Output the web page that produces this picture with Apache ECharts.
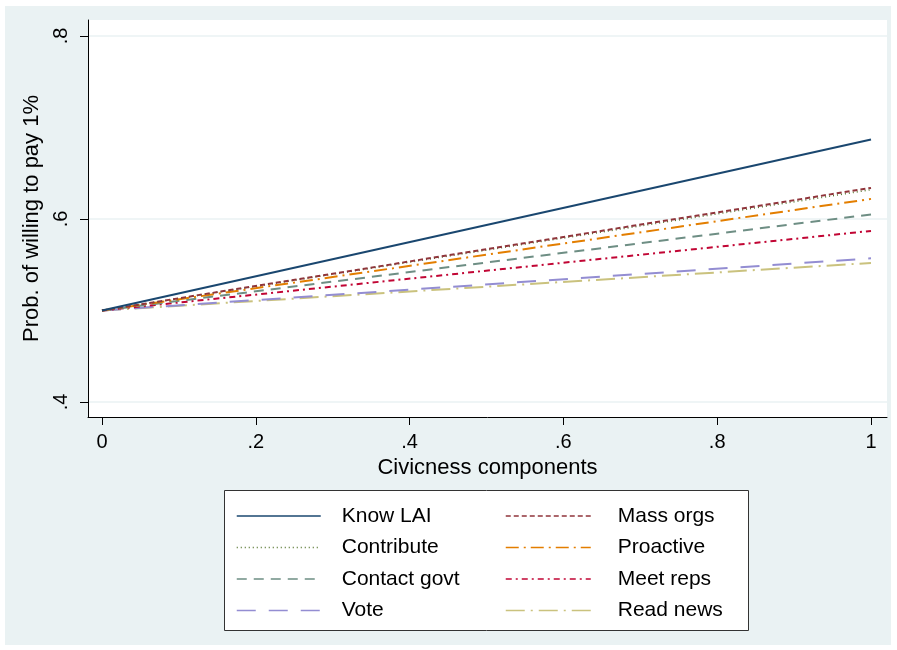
<!DOCTYPE html>
<html>
<head>
<meta charset="utf-8">
<script src="https://cdn.jsdelivr.net/npm/echarts@6/dist/echarts.min.js"></script>
<style>
  html, body { margin: 0; padding: 0; background: #fff; }
  #bg { position: absolute; left: 5px; top: 6px; width: 886px; height: 639px; background: #EAF2F3; }
  #chart { position: absolute; left: 0; top: 0; width: 897px; height: 650px; }
</style>
</head>
<body>
<div id="bg"></div>
<div id="chart"></div>
<script>
// x positions of the prediction lines (civicness component score)
const xValues = [0, 1];
const seriesNames = ['Know LAI', 'Mass orgs', 'Contribute', 'Proactive', 'Contact govt', 'Meet reps', 'Vote', 'Read news'];
// predicted probability at x = 0 and x = 1
const knowLAI = [0.5, 0.687];
const massOrgs = [0.5, 0.634];
const contribute = [0.5, 0.632];
const proactive = [0.5, 0.622];
const contactGovt = [0.5, 0.605];
const meetReps = [0.5, 0.587];
const vote = [0.5, 0.557];
const readNews = [0.5, 0.552];
const xTicks = [0, 0.2, 0.4, 0.6, 0.8, 1];
const yTicks = [0.4, 0.6, 0.8];

const valuesList = [knowLAI, massOrgs, contribute, proactive, contactGovt, meetReps, vote, readNews];
const colors = ['#1a476f', '#90353b', '#55752f', '#e37e00', '#6e8e84', '#c10534', '#938dd2', '#cac27e'];
const dashes = [
    'solid',
    [5, 3],
    [1, 3],
    [13, 5, 2, 5],
    [10, 7],
    [6, 4, 2, 4],
    [19, 13],
    [19, 6, 2, 6]
];

const fmt = v => (v === 0 ? '0' : v === 1 ? '1' : String(+v.toFixed(1)).replace('0.', '.'));

let chart = echarts.init(document.getElementById('chart'));

let series = [];
for (let i = 0; i < seriesNames.length; i++) {
    series.push({
        name: seriesNames[i],
        type: 'line',
        symbol: 'none',
        silent: true,
        z: 10 - i,
        lineStyle: {
            color: colors[i],
            width: i === 2 ? 1.5 : 2,
            type: dashes[i]
        },
        itemStyle: { color: colors[i] },
        data: xValues.map((x, j) => [x, valuesList[i][j]])
    });
}

const legendText = {
    color: '#000',
    fontSize: 21,
    fontFamily: 'Liberation Sans, Arial, sans-serif',
    lineHeight: 22
};
// hide the marker dot on legend icons, keep only the line sample
const legendDot = { color: 'rgba(0,0,0,0)', borderColor: 'rgba(0,0,0,0)', borderWidth: 0, opacity: 0 };

let option = {
    animation: false,
    backgroundColor: 'transparent',
    textStyle: { fontFamily: 'Liberation Sans, Arial, sans-serif' },
    grid: {
        left: 88,
        right: 10,
        top: 20,
        bottom: 233,
        show: true,
        backgroundColor: '#fff',
        borderWidth: 0
    },
    xAxis: {
        type: 'value',
        min: -0.0182,
        max: 1.0208,
        name: 'Civicness components',
        nameLocation: 'middle',
        nameGap: 38,
        nameTextStyle: { color: '#000', fontSize: 22 },
        axisLine: { show: true, onZero: false, lineStyle: { color: '#000', width: 1 } },
        axisTick: { show: true, length: 8, customValues: xTicks, lineStyle: { color: '#000' } },
        axisLabel: { customValues: xTicks, formatter: fmt, color: '#000', fontSize: 20, margin: 15 },
        splitLine: { show: false }
    },
    yAxis: {
        type: 'value',
        min: 0.3836,
        max: 0.8175,
        name: 'Prob. of willing to pay 1%',
        nameLocation: 'middle',
        nameGap: 39,
        nameTextStyle: { color: '#000', fontSize: 22 },
        axisLine: { show: true, onZero: false, lineStyle: { color: '#000', width: 1 } },
        axisTick: { show: true, length: 8, customValues: yTicks, lineStyle: { color: '#000' } },
        axisLabel: { customValues: yTicks, formatter: fmt, color: '#000', fontSize: 20, rotate: 90, margin: 17 },
        splitLine: { show: true, lineStyle: { color: '#EAF2F3', width: 1.5 } }
    },
    legend: [
        {
            data: ['Know LAI', 'Contribute', 'Contact govt', 'Vote'],
            orient: 'vertical',
            left: 231,
            top: 500,
            itemWidth: 84,
            itemHeight: 14,
            itemGap: 9.5,
            itemStyle: legendDot,
            lineStyle: { width: 1.5 },
            textStyle: Object.assign({ padding: [0, 0, 0, 16] }, legendText)
        },
        {
            data: ['Mass orgs', 'Proactive', 'Meet reps', 'Read news'],
            orient: 'vertical',
            left: 500,
            top: 500,
            itemWidth: 85,
            itemHeight: 14,
            itemGap: 9.5,
            itemStyle: legendDot,
            lineStyle: { width: 1.5 },
            textStyle: Object.assign({ padding: [0, 0, 0, 22] }, legendText)
        }
    ],
    graphic: [
        {
            type: 'rect',
            z: -1,
            shape: { x: 224.5, y: 490.5, width: 524, height: 140 },
            style: { fill: '#fff', stroke: '#333', lineWidth: 1 }
        }
    ],
    series: series
};

chart.setOption(option);
</script>
</body>
</html>
